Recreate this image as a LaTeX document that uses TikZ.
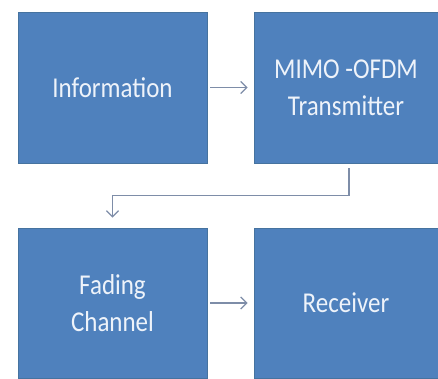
\documentclass[tikz,border=0pt]{standalone}
\usepackage{fontspec}
\setmainfont{Carlito}
\usetikzlibrary{arrows.meta}
\definecolor{boxblue}{HTML}{4F81BD}
\definecolor{boxedge}{HTML}{46739F}
\definecolor{arrcol}{HTML}{7E8DA8}
\definecolor{txtcol}{HTML}{EEF3FA}
\begin{document}
\begin{tikzpicture}[x=1pt,y=-1pt,
  blk/.style={draw=boxedge, line width=0.8pt, fill=boxblue, text=txtcol, align=center,
    inner sep=0pt, font=\fontsize{25}{35}\selectfont},
  arr/.style={draw=arrcol, line width=1.3pt, -{Straight Barb[length=6pt,width=12pt]}}]
\useasboundingbox (0,0) rectangle (438,378);
\node[blk, minimum width=189pt, minimum height=151pt] (b1) at (112.5,87.5) {\scalebox{1}[1.15]{Information}};
\node[blk, minimum width=184pt, minimum height=151pt] (b2) at (346,87.5) {\scalebox{1}[1.15]{MIMO -OFDM}\\[2pt]\scalebox{1}[1.15]{Transmitter}};
\node[blk, minimum width=189pt, minimum height=150pt] (b3) at (112.5,303) {\scalebox{1}[1.15]{Fading}\\[2pt]\scalebox{1}[1.15]{Channel}};
\node[blk, minimum width=184pt, minimum height=150pt] (b4) at (346,303) {\scalebox{1}[1.15]{Receiver}};
\draw[arr, shorten <=3pt, shorten >=6pt] (b1.east) -- (b2.west);
\draw[arr, shorten <=3pt, shorten >=6pt] (b3.east) -- (b4.west);
\draw[arr] ([xshift=3pt,yshift=-5pt]b2.south) -- ++(0,27) -| ([yshift=10pt]b3.north);
\end{tikzpicture}
\end{document}
